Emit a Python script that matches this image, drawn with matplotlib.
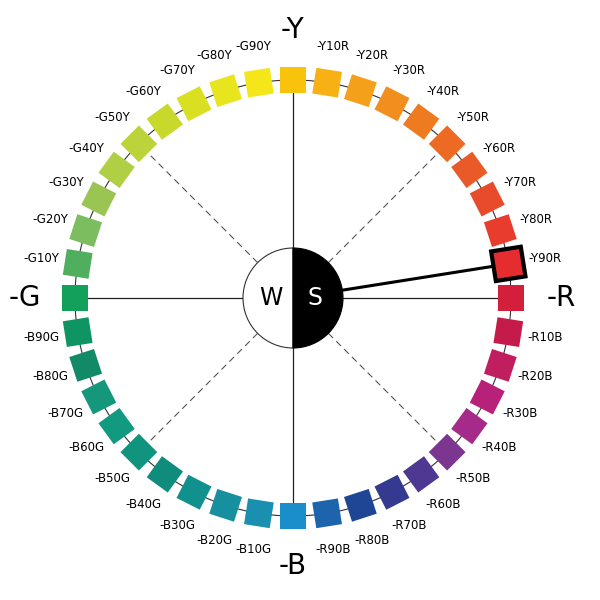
import numpy as np
import matplotlib.pyplot as plt
from matplotlib.patches import Polygon, Circle, Wedge

# hues clockwise from Y at the top
labels = ["Y", "Y10R", "Y20R", "Y30R", "Y40R", "Y50R", "Y60R", "Y70R", "Y80R", "Y90R",
          "R", "R10B", "R20B", "R30B", "R40B", "R50B", "R60B", "R70B", "R80B", "R90B",
          "B", "B10G", "B20G", "B30G", "B40G", "B50G", "B60G", "B70G", "B80G", "B90G",
          "G", "G10Y", "G20Y", "G30Y", "G40Y", "G50Y", "G60Y", "G70Y", "G80Y", "G90Y"]
colors = ["#f8c30a", "#f7b114", "#f5a01a", "#f28e1e", "#ef7b21", "#ec6a24", "#ea5a28", "#e84b2b", "#e73c2e", "#e52d30",
          "#d41f3a", "#c51b4a", "#c01e5e", "#b8217a", "#a52a8a", "#7c3690", "#4f3891", "#35398f", "#1f4694", "#1d64ad",
          "#1a8dcb", "#1a8fb0", "#16909e", "#11918e", "#0f8c7c", "#10947e", "#129a80", "#14977a", "#138a67", "#0f9463",
          "#12a05a", "#4faf5f", "#7bbd5f", "#9ac553", "#b0cf45", "#bcd43a", "#c8d92b", "#d9e021", "#e8e51e", "#f5e61a"]
selected = "Y90R"

cx, cy = 293, 298
R_sq, half, R_lab, R_main = 218, 13, 255, 268

fig = plt.figure(figsize=(6, 6), dpi=100)
ax = fig.add_axes([0, 0, 1, 1])
ax.set_xlim(0, 600)
ax.set_ylim(600, 0)
ax.axis("off")

def pt(r, ang):
    a = np.radians(ang)
    return cx + r * np.sin(a), cy - r * np.cos(a)

ax.add_patch(Circle((cx, cy), R_sq, fill=False, lw=0.8, color="#333333", zorder=1))
for ang in (0, 90, 180, 270):
    ax.plot(*zip(pt(50, ang), pt(R_sq, ang)), color="#222222", lw=0.9, zorder=1)
for ang in (45, 135, 225, 315):
    ax.plot(*zip(pt(50, ang), pt(R_sq - 15, ang)), color="#555555", lw=0.8, ls=(0, (6, 4)), zorder=1)

for i, (lab, col) in enumerate(zip(labels, colors)):
    ang = i * 9
    a = np.radians(ang)
    u = np.array([np.sin(a), -np.cos(a)])
    t = np.array([np.cos(a), np.sin(a)])
    c = np.array([cx, cy]) + R_sq * u
    h = half + (2 if lab == selected else 0)
    corners = [c + h * (su * u + st * t) for su, st in ((-1, -1), (-1, 1), (1, 1), (1, -1))]
    if lab == selected:
        ax.add_patch(Polygon(corners, closed=True, fc=col, ec="black", lw=3, zorder=3))
    else:
        ax.add_patch(Polygon(corners, closed=True, fc=col, ec="none", zorder=2))
    if i % 10 == 0:
        x, y = pt(R_main, ang)
        ax.text(x, y, "-" + lab, fontsize=20, ha="center", va="center", family="DejaVu Sans")
    else:
        x, y = pt(R_lab, ang)
        ax.text(x, y, "-" + lab, fontsize=8.5, ha="center", va="center", family="DejaVu Sans")

sel = labels.index(selected) * 9
ax.plot(*zip(pt(0, sel), pt(R_sq - 15, sel)), color="black", lw=2.2, zorder=2)

ax.add_patch(Wedge((cx, cy), 50, 90, 270, fc="white", ec="#333333", lw=0.8, zorder=4))
ax.add_patch(Wedge((cx, cy), 50, -90, 90, fc="black", ec="black", lw=0.8, zorder=4))
ax.text(cx - 22, cy, "W", fontsize=17, ha="center", va="center", color="black", zorder=5)
ax.text(cx + 22, cy, "S", fontsize=17, ha="center", va="center", color="white", zorder=5)

fig.savefig("out.png", dpi=100)
